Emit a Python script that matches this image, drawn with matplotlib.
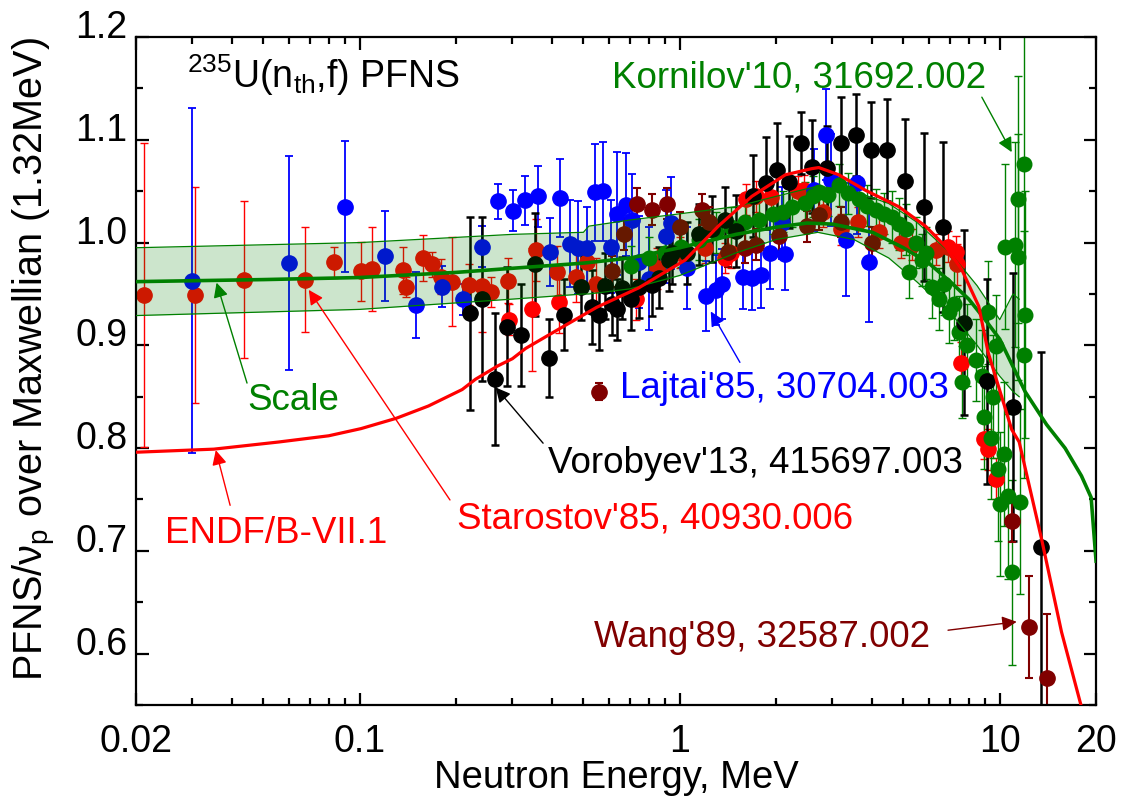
"""
U-235 thermal PFNS ratio to Maxwellian: experiments vs ENDF/B-VII.1 and scaled fit.
"""
import matplotlib

matplotlib.use("Agg")
import matplotlib.pyplot as plt
from matplotlib.ticker import FixedLocator, NullFormatter
from matplotlib.transforms import ScaledTranslation

plt.rcParams["font.family"] = ["Liberation Sans", "DejaVu Sans"]
plt.rcParams["mathtext.fontset"] = "custom"
plt.rcParams["mathtext.rm"] = "Liberation Sans"
plt.rcParams["mathtext.it"] = "Liberation Sans:italic"

# ---- data (energy in MeV, ratio, uncertainty) ----
staro_e = [0.0212, 0.0305, 0.0434, 0.0673, 0.083, 0.101, 0.109, 0.137, 0.140, 0.158,
           0.168, 0.180, 0.194, 0.219, 0.241, 0.257, 0.290, 0.292, 0.345, 0.355,
           0.413, 0.418, 0.473, 0.512, 0.546, 0.729, 0.85, 1.0, 1.2, 1.39,
           1.45, 1.61, 1.73, 1.93, 2.35, 2.44, 2.8, 3.2, 3.6, 4.2,
           4.9, 5.3, 6.3, 6.9, 7.3, 7.35, 7.55, 8.9, 9.2, 9.7]
staro_v = [0.949, 0.949, 0.964, 0.964, 0.981, 0.972, 0.974, 0.973, 0.957, 0.985,
           0.979, 0.967, 0.962, 0.959, 0.958, 0.952, 0.963, 0.925, 0.935, 0.993,
           0.971, 0.942, 0.967, 0.981, 0.960, 0.945, 0.975, 0.990, 0.995, 0.985,
           0.990, 1.042, 1.045, 1.044, 1.050, 1.051, 1.030, 1.013, 1.020, 1.010,
           1.000, 0.998, 0.993, 0.996, 0.991, 0.979, 0.883, 0.809, 0.799, 0.770]
staro_err = [0.148, 0.105, 0.076, 0.051, 0.015, 0.029, 0.041, 0.023, 0.010, 0.022,
             0.012, 0.017, 0.043, 0.020, 0.045, 0.015, 0.022, 0.015, 0.060, 0.030,
             0.026, 0.030, 0.025, 0.020, 0.025, 0.020, 0.020, 0.015, 0.015, 0.015,
             0.015, 0.015, 0.015, 0.015, 0.015, 0.015, 0.015, 0.015, 0.015, 0.015,
             0.015, 0.015, 0.015, 0.015, 0.015, 0.020, 0.020, 0.020, 0.020, 0.020]

lajtai_e = [0.0299, 0.0601, 0.0898, 0.120, 0.150, 0.181, 0.210, 0.241, 0.270, 0.302,
            0.329, 0.360, 0.393, 0.422, 0.453, 0.480, 0.512, 0.542, 0.575, 0.609,
            0.636, 0.678, 0.708, 0.745, 0.80, 0.904, 0.937, 1.05, 1.21, 1.30,
            1.36, 1.58, 1.68, 1.80, 1.91, 2.08, 2.14, 2.62, 2.86, 2.98,
            3.30, 3.58, 3.90]
lajtai_v = [0.963, 0.980, 1.035, 0.987, 0.939, 0.957, 0.945, 0.996, 1.040, 1.031,
            1.041, 1.045, 0.991, 1.043, 0.999, 0.995, 0.995, 1.049, 1.050, 0.996,
            1.028, 1.037, 1.022, 0.981, 0.965, 1.006, 1.019, 0.975, 0.948, 0.954,
            0.960, 0.967, 0.966, 0.968, 0.990, 1.019, 0.989, 1.051, 1.105, 1.061,
            1.003, 1.058, 0.981]
lajtai_err = [0.168, 0.104, 0.064, 0.044, 0.032, 0.020, 0.015, 0.020, 0.017, 0.020,
              0.024, 0.030, 0.033, 0.038, 0.042, 0.045, 0.040, 0.047, 0.048, 0.045,
              0.060, 0.050, 0.045, 0.045, 0.050, 0.045, 0.045, 0.040, 0.034, 0.034,
              0.034, 0.032, 0.032, 0.032, 0.035, 0.035, 0.035, 0.040, 0.044, 0.045,
              0.055, 0.050, 0.058]

voro_e = [0.221, 0.241, 0.264, 0.288, 0.318, 0.353, 0.390, 0.434, 0.491, 0.531,
          0.558, 0.583, 0.613, 0.636, 0.659, 0.703, 0.745, 0.818, 0.860, 0.924,
          0.944, 1.05, 1.146, 1.26, 1.39, 1.50, 1.70, 1.86, 2.01, 2.19,
          2.39, 2.59, 2.88, 3.18, 3.55, 3.95, 4.44, 5.04, 5.79, 6.63,
          7.76, 9.15, 11.0, 13.5]
voro_v = [0.931, 0.945, 0.867, 0.918, 0.910, 0.979, 0.888, 0.930, 0.957, 0.937,
          0.930, 0.958, 0.940, 0.935, 0.956, 0.945, 0.957, 0.959, 0.966, 0.983,
          0.990, 0.990, 1.008, 1.013, 1.022, 1.011, 1.045, 1.058, 1.071, 1.059,
          1.097, 1.074, 1.073, 1.097, 1.105, 1.090, 1.090, 1.060, 1.035, 1.015,
          0.922, 0.865, 0.840, 0.704]
voro_err = [0.094, 0.080, 0.064, 0.058, 0.050, 0.050, 0.038, 0.035, 0.032, 0.036,
            0.035, 0.032, 0.030, 0.030, 0.030, 0.030, 0.030, 0.030, 0.030, 0.030,
            0.030, 0.030, 0.030, 0.032, 0.032, 0.035, 0.040, 0.045, 0.045, 0.045,
            0.030, 0.045, 0.040, 0.045, 0.040, 0.047, 0.050, 0.060, 0.072, 0.083,
            0.090, 0.100, 0.130, 0.190]

korn_e = [0.703, 0.80, 0.90, 1.01, 1.15, 1.30, 1.45, 1.60, 1.77, 1.95,
          2.10, 2.24, 2.47, 2.60, 2.72, 2.90, 3.14, 3.35, 3.63, 3.85,
          4.10, 4.35, 4.60, 4.85, 5.10, 5.20, 5.46, 5.70, 5.90, 6.13,
          6.45, 6.70, 6.93, 7.20, 7.44, 7.60, 7.90, 8.40, 8.80, 8.90,
          9.20, 9.40, 9.50, 9.70, 9.90, 10.0, 10.3, 10.4, 10.6, 10.9,
          11.2, 11.4, 11.4, 11.6, 11.9, 11.9, 12.0]
korn_v = [0.977, 0.985, 0.990, 0.996, 1.003, 1.010, 1.015, 1.020, 1.022, 1.028,
          1.030, 1.035, 1.039, 1.045, 1.049, 1.046, 1.056, 1.048, 1.042, 1.036,
          1.032, 1.028, 1.025, 1.018, 1.013, 0.971, 1.000, 0.983, 0.990, 0.957,
          0.945, 0.960, 0.932, 0.940, 0.913, 0.864, 0.900, 0.886, 0.870, 0.830,
          0.932, 0.810, 0.850, 0.899, 0.780, 0.746, 0.794, 0.996, 0.753, 0.679,
          0.998, 1.042, 0.986, 0.748, 1.076, 0.891, 0.930]
korn_err = [0.020, 0.020, 0.020, 0.020, 0.020, 0.020, 0.020, 0.020, 0.020, 0.020,
            0.020, 0.020, 0.020, 0.020, 0.020, 0.020, 0.020, 0.020, 0.020, 0.020,
            0.020, 0.020, 0.025, 0.025, 0.025, 0.025, 0.025, 0.025, 0.025, 0.030,
            0.030, 0.030, 0.030, 0.035, 0.035, 0.035, 0.040, 0.040, 0.045, 0.050,
            0.050, 0.060, 0.060, 0.050, 0.070, 0.070, 0.070, 0.080, 0.080, 0.090,
            0.100, 0.120, 0.120, 0.090, 0.150, 0.120, 0.120]

wang_e = [0.558, 0.613, 0.668, 0.734, 0.818, 0.911, 1.00, 1.17, 1.23, 1.42,
          1.60, 1.73, 2.04, 2.49, 2.72, 3.2, 4.0, 10.9, 12.3, 14.0]
wang_v = [0.855, 0.972, 1.008, 1.038, 1.032, 1.038, 1.015, 1.032, 1.020, 0.991,
          0.995, 0.998, 1.006, 1.016, 1.027, 1.020, 1.000, 0.729, 0.626, 0.576]
wang_err = [0.008, 0.015, 0.015, 0.015, 0.015, 0.015, 0.015, 0.015, 0.015, 0.015,
            0.015, 0.015, 0.015, 0.015, 0.015, 0.015, 0.015, 0.020, 0.050, 0.063]

endf_e = [0.02, 0.035, 0.056, 0.080, 0.101, 0.13, 0.164, 0.209, 0.23, 0.27,
          0.30, 0.33, 0.42, 0.55, 0.745, 1.04, 1.32, 1.68, 2.14, 2.59,
          2.72, 3.14, 3.8, 4.83, 5.86, 6.78, 7.6, 8.6, 9.2, 10.9,
          11.5, 13.5, 15.6, 17.9]
endf_v = [0.796, 0.799, 0.806, 0.812, 0.819, 0.829, 0.841, 0.857, 0.867, 0.880,
          0.887, 0.897, 0.916, 0.937, 0.956, 0.983, 1.016, 1.045, 1.066, 1.072,
          1.073, 1.066, 1.051, 1.035, 1.016, 0.996, 0.974, 0.938, 0.893, 0.818,
          0.806, 0.712, 0.621, 0.551]

scale_e = [0.02, 0.05, 0.1, 0.2, 0.3, 0.5, 0.7, 1.0, 1.5, 2.0,
           2.5, 3.0, 4.0, 5.0, 6.0, 7.0, 8.0, 9.0, 10.0, 12.0,
           14.0, 16.0, 18.0, 19.3, 20.0]
scale_v = [0.962, 0.964, 0.966, 0.971, 0.975, 0.980, 0.985, 0.995, 1.008, 1.015,
           1.019, 1.018, 1.010, 0.995, 0.980, 0.962, 0.945, 0.925, 0.906, 0.855,
           0.823, 0.800, 0.773, 0.752, 0.690]

band_e = [0.02, 0.1, 0.3, 0.5, 0.52, 0.7, 1.0, 1.5, 2.0, 2.7,
          3.5, 4.5, 5.5, 7.0, 8.5, 10.0, 11.0, 11.5]
band_lo = [0.929, 0.935, 0.945, 0.950, 0.950, 0.955, 0.968, 0.990, 1.003, 1.010,
           1.003, 0.985, 0.962, 0.932, 0.900, 0.870, 0.855, 0.850]
band_hi = [0.995, 1.000, 1.008, 1.010, 1.016, 1.022, 1.028, 1.035, 1.045, 1.055,
           1.050, 1.038, 1.020, 0.990, 0.958, 0.925, 0.950, 0.945]

x_major = [0.02, 0.1, 1, 10, 20]
x_major_labels = ["0.02", "0.1", "1", "10", "20"]
x_minor = [0.03, 0.04, 0.05, 0.06, 0.07, 0.08, 0.09,
           0.2, 0.3, 0.4, 0.5, 0.6, 0.7, 0.8, 0.9,
           2, 3, 4, 5, 6, 7, 8, 9]
y_major = [0.6, 0.7, 0.8, 0.9, 1.0, 1.1, 1.2]
y_minor = [0.55, 0.65, 0.75, 0.85, 0.95, 1.05, 1.15]

RED = "#ff0000"
BLUE = "#0000ff"
GREEN = "#008000"
MAROON = "#800000"
BLACK = "#000000"
FS = 26.5


def draw_set(ax, e, v, err, color, ms, elw, zorder=2):
    ax.errorbar(e, v, yerr=err, fmt="o", color=color, ecolor=color, ms=ms,
                mec=color, elinewidth=elw, capsize=3, capthick=elw, zorder=zorder)


fig = plt.figure(figsize=(11.28, 7.97), dpi=100)
ax = fig.add_axes([0.1206, 0.1154, 0.8511, 0.8381])
ax.set_xscale("log")
ax.set_xlim(0.02, 20)
ax.set_ylim(0.55, 1.2)

draw_set(ax, staro_e, staro_v, staro_err, RED, 11, 1.0)
draw_set(ax, lajtai_e, lajtai_v, lajtai_err, BLUE, 11, 1.3)
draw_set(ax, korn_e, korn_v, korn_err, GREEN, 10.5, 1.0)
draw_set(ax, voro_e, voro_v, voro_err, BLACK, 11, 1.8)
draw_set(ax, wang_e, wang_v, wang_err, MAROON, 11, 1.5)

# uncertainty band of the scaled evaluation (drawn over the points)
ax.fill_between(band_e, band_lo, band_hi, color=GREEN, alpha=0.2, lw=0, zorder=3)
ax.plot(band_e, band_lo, color=GREEN, lw=0.9, zorder=3)
ax.plot(band_e, band_hi, color=GREEN, lw=0.9, zorder=3)
ax.plot(scale_e, scale_v, color=GREEN, lw=2.6, zorder=4)
ax.plot(endf_e, endf_v, color=RED, lw=2.3, zorder=5)

# axes styling
for side in ax.spines.values():
    side.set_linewidth(1.6)
ax.xaxis.set_major_locator(FixedLocator(x_major))
ax.xaxis.set_minor_locator(FixedLocator(x_minor))
ax.xaxis.set_minor_formatter(NullFormatter())
ax.set_xticklabels(x_major_labels)
ax.yaxis.set_major_locator(FixedLocator(y_major))
ax.yaxis.set_minor_locator(FixedLocator(y_minor))
ax.set_yticklabels([f"{t:.1f}" for t in y_major])
ax.tick_params(which="both", direction="in", top=True, right=True, width=1.6,
               labelsize=27)
ax.tick_params(which="major", length=9)
ax.tick_params(which="minor", length=5)
ax.tick_params(axis="x", pad=14)
ax.tick_params(axis="y", pad=6)
# y tick labels sit a little above their ticks in the original
shift_up = ScaledTranslation(0, 0.13, fig.dpi_scale_trans)
for lab in ax.get_yticklabels():
    lab.set_transform(lab.get_transform() + shift_up)

ax.set_xlabel("Neutron Energy, MeV", fontsize=27.5, labelpad=0)
ax.set_ylabel("PFNS/ν$_\\mathregular{p}$ over Maxwellian (1.32MeV)", fontsize=28.5)
ax.yaxis.set_label_coords(-0.081, 0.518)

ax.text(0.053, 0.924, r"$^{235}$U(n$_{\rm th}$,f) PFNS", transform=ax.transAxes,
        fontsize=27, va="baseline")

labels = [
    ("Kornilov'10, 31692.002", GREEN, (0.496, 0.925)),
    ("Scale", GREEN, (0.1156, 0.4416)),
    ("ENDF/B-VII.1", RED, (0.0302, 0.2425)),
    ("Starostov'85, 40930.006", RED, (0.3344, 0.265)),
    ("Vorobyev'13, 415697.003", BLACK, (0.429, 0.347)),
    ("Lajtai'85, 30704.003", BLUE, (0.504, 0.4596)),
    ("Wang'89, 32587.002", MAROON, (0.477, 0.0868)),
]
for txt, col, pos in labels:
    ax.text(pos[0], pos[1], txt, color=col, fontsize=FS, va="baseline",
            transform=ax.transAxes, zorder=6)

arrows = [
    (GREEN, (10.9, 1.088), (0.881, 0.910)),
    (GREEN, (0.0357, 0.961), (0.1156, 0.482)),
    (RED, (0.0355, 0.798), (0.098, 0.299)),
    (RED, (0.0693, 0.954), (0.327, 0.307)),
    (BLACK, (0.266, 0.859), (0.424, 0.392)),
    (BLUE, (1.25, 0.933), (0.629, 0.513)),
    (MAROON, (11.3, 0.631), (0.8458, 0.112)),
]
for col, head, tail in arrows:
    ax.annotate("", xy=head, xycoords="data", xytext=tail,
                textcoords="axes fraction",
                arrowprops=dict(arrowstyle="-|>", color=col, lw=1.0,
                                mutation_scale=22, shrinkA=0, shrinkB=0),
                zorder=6)

fig.savefig("out.png", dpi=100)
